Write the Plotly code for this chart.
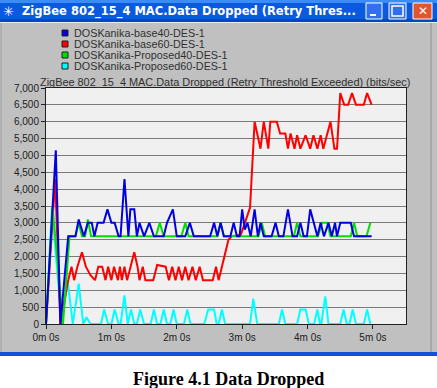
import plotly.graph_objects as go

# ---------------- data (time in minutes, values in bits/sec) ----------------
series_names = ["DOSKanika-base40-DES-1", "DOSKanika-base60-DES-1",
                "DOSKanika-Proposed40-DES-1", "DOSKanika-Proposed60-DES-1"]

base40_t = [0, 0.15, 0.22, 0.34, 0.45, 0.50, 0.58, 0.64, 0.70, 0.74, 0.79, 0.88, 0.94, 1.00, 1.05,
            1.11, 1.14, 1.20, 1.26, 1.29, 1.35, 1.39, 1.43, 1.50, 1.58, 1.65, 1.80, 1.85, 1.94, 2.00,
            2.13, 2.20, 2.26, 2.51, 2.57, 2.62, 2.67, 2.72, 2.82, 2.87, 2.92, 2.96, 3.00, 3.04, 3.08,
            3.13, 3.19, 3.24, 3.28, 3.33, 3.45, 3.51, 3.56, 3.63, 3.70, 3.77, 3.84, 3.89, 3.94, 3.99,
            4.04, 4.10, 4.15, 4.20, 4.25, 4.32, 4.37, 4.42, 4.45, 4.50, 4.66, 4.71, 4.98]
base40_v = [0, 5150, 0, 2600, 2600, 3100, 2600, 3000, 3000, 2600, 3000, 3000, 3400, 3000, 3000,
            2600, 2600, 4300, 2600, 3400, 3400, 2600, 3000, 2600, 3000, 2600, 2600, 3000, 3400, 2600,
            2600, 3000, 2600, 2600, 3000, 2600, 3000, 2600, 2600, 3000, 2600, 2600, 3400, 2800, 3000,
            2600, 3400, 2600, 3000, 2600, 2600, 3000, 2600, 2600, 3400, 2600, 2600, 3000, 2600, 2600,
            3400, 3000, 2600, 3000, 2600, 3000, 2600, 3000, 2600, 3000, 3000, 2600, 2600]

base60_t = [0, 0.14, 0.22, 0.34, 0.39, 0.43, 0.48, 0.55, 0.61, 0.68, 0.75, 0.80, 0.86, 0.91, 0.95,
            1.00, 1.04, 1.10, 1.13, 1.16, 1.20, 1.24, 1.35, 1.40, 1.43, 1.48, 1.52, 1.64, 1.70, 1.83,
            1.88, 1.93, 1.98, 2.03, 2.08, 2.13, 2.18, 2.24, 2.29, 2.35, 2.40, 2.55, 2.60, 2.64, 2.79,
            2.84, 2.98, 3.12, 3.19, 3.28, 3.33, 3.40, 3.43, 3.53, 3.58, 3.66, 3.70, 3.74, 3.80, 3.84,
            3.89, 3.97, 4.04, 4.09, 4.15, 4.20, 4.24, 4.35, 4.41, 4.45, 4.50, 4.56, 4.62, 4.68, 4.74,
            4.86, 4.91, 4.98]
base60_v = [0, 4300, 0, 1300, 1700, 1300, 1700, 2130, 1700, 1450, 1300, 1700, 1700, 1300, 1700,
            1300, 1700, 1300, 1700, 1300, 1700, 1300, 2130, 1700, 1300, 1700, 1300, 1300, 1750, 1700,
            1300, 1700, 1300, 1700, 1300, 1700, 1300, 1700, 1300, 1700, 1300, 1300, 1700, 1300, 2500,
            2600, 2650, 3450, 6000, 5200, 6000, 5200, 6000, 6000, 5650, 5650, 5200, 5650, 5200, 5600,
            5200, 5600, 5200, 5600, 5200, 5600, 5200, 6000, 5200, 5200, 6850, 6500, 6500, 6850, 6500,
            6500, 6850, 6500]

prop40_t = [0, 0.10, 0.26, 0.36, 0.45, 0.50, 0.55, 0.60, 0.64, 0.69, 1.68, 1.74, 1.80, 2.07, 2.13,
            2.18, 2.62, 2.67, 2.72, 3.25, 3.30, 3.35, 3.79, 3.84, 3.89, 4.16, 4.22, 4.30, 4.35, 4.66,
            4.71, 4.76, 4.90, 4.96]
prop40_v = [0, 3500, 0, 2600, 2600, 3000, 2600, 2600, 3100, 2600, 2600, 3000, 2600, 2600, 3000,
            2600, 2600, 3000, 2600, 2600, 3000, 2600, 2600, 3000, 2600, 2600, 3000, 3000, 2600, 2600,
            3000, 2600, 2600, 3000]

prop60_t = [0, 0.09, 0.24, 0.33, 0.41, 0.50, 0.57, 0.62, 0.68, 0.84, 0.89, 0.95, 1.00, 1.05, 1.11,
            1.14, 1.20, 1.25, 1.30, 1.35, 1.39, 1.44, 1.50, 1.60, 1.65, 1.70, 1.75, 1.80, 1.85, 1.90,
            1.95, 2.00, 2.11, 2.16, 2.21, 2.42, 2.48, 2.57, 2.61, 2.64, 2.69, 2.74, 3.12, 3.17, 3.23,
            3.56, 3.61, 3.66, 3.84, 3.89, 3.97, 4.02, 4.10, 4.15, 4.19, 4.21, 4.27, 4.32, 4.50, 4.55,
            4.60, 4.64, 4.69, 4.74, 4.86, 4.91, 4.96]
prop60_v = [0, 3450, 0, 1300, 0, 1200, 0, 200, 0, 0, 430, 0, 0, 430, 0,
            0, 850, 0, 430, 0, 0, 430, 0, 0, 430, 0, 0, 430, 0, 0,
            430, 0, 0, 430, 0, 0, 430, 430, 0, 0, 430, 0, 0, 750, 0,
            0, 430, 0, 0, 430, 430, 0, 0, 430, 0, 0, 820, 0, 0, 430,
            0, 0, 430, 0, 0, 430, 0]

x_tickvals = [0, 1, 2, 3, 4, 5]
x_ticktext = ["0m 0s", "1m 0s", "2m 0s", "3m 0s", "4m 0s", "5m 0s"]

colors = ["#0000e0", "#ff0000", "#00e000", "#00ffff"]

# ---------------- geometry ----------------
FW, FH = 437, 388
L, T, PW, PH = 46, 88, 360, 236


def px(x):
    return (x - L) / PW


def py(y):
    return (T + PH - y) / PH


fig = go.Figure()
series = [(base40_t, base40_v), (base60_t, base60_v), (prop40_t, prop40_v), (prop60_t, prop60_v)]
draw_order = [3, 1, 2, 0]
for i in draw_order:
    t, v = series[i]
    fig.add_trace(go.Scatter(x=t, y=v, mode="lines", name=series_names[i],
                             line=dict(color=colors[i], width=2), showlegend=False,
                             hoverinfo="skip"))

shapes = []
def rect(x0, y0, x1, y1, fill, line=None, layer="below", lw=0):
    shapes.append(dict(type="rect", xref="paper", yref="paper",
                       x0=px(x0), x1=px(x1), y0=py(y1), y1=py(y0),
                       fillcolor=fill, layer=layer,
                       line=dict(color=line or fill, width=lw)))

# window body and surroundings
rect(0, 356, FW, FH, "#ffffff")
rect(0, 352, FW, 356, "#1450d8")
rect(430, 22, 432, 352, "#a8a8a8")
rect(0, 22, 2, 352, "#b0b0b0")
# title bar
rect(0, 0, FW, 22, "#0a5ae0")
rect(0, 0, FW, 3, "#3c8cf8")
rect(0, 19, FW, 22, "#0646c0")
rect(0, 22, FW, 23, "#e8eef8")
# window buttons
rect(366, 3, 382, 19, "#2f6ff0", line="#ffffff", layer="above", lw=1)
rect(389, 3, 406, 19, "#2f6ff0", line="#ffffff", layer="above", lw=1)
rect(413, 3, 432, 19, "#e2552e", line="#ffffff", layer="above", lw=1)
rect(370, 14, 376, 16, "#ffffff", layer="above")
rect(392, 6, 403, 16, "rgba(0,0,0,0)", line="#ffffff", layer="above", lw=1.5)

# legend squares
leg_y = [33, 44, 55, 66]
for i, yc in enumerate(leg_y):
    rect(62, yc - 3, 68, yc + 3, colors[i], line="#202020", layer="above", lw=1)

annotations = []
for i, yc in enumerate(leg_y):
    annotations.append(dict(xref="paper", yref="paper", x=px(72), y=py(yc), text=series_names[i],
                            showarrow=False, xanchor="left", yanchor="middle",
                            font=dict(family="Liberation Sans", size=10.8, color="#303030")))

annotations.append(dict(xref="paper", yref="paper", x=px(225), y=py(82),
                        text="ZigBee 802_15_4 MAC.Data Dropped (Retry Threshold Exceeded) (bits/sec)",
                        showarrow=False, xanchor="center", yanchor="middle",
                        font=dict(family="Liberation Sans", size=10.9, color="#303030")))
annotations.append(dict(xref="paper", yref="paper", x=px(20), y=py(11.5),
                        text="<b>ZigBee 802_15_4 MAC.Data Dropped (Retry Thres...</b>",
                        showarrow=False, xanchor="left", yanchor="middle",
                        font=dict(family="DejaVu Sans", size=11.5, color="#ffffff")))
annotations.append(dict(xref="paper", yref="paper", x=px(8), y=py(11),
                        text="✳", showarrow=False, xanchor="center", yanchor="middle",
                        font=dict(family="DejaVu Sans", size=13, color="#ffffff")))
annotations.append(dict(xref="paper", yref="paper", x=px(422.5), y=py(11),
                        text="<b>✕</b>", showarrow=False, xanchor="center", yanchor="middle",
                        font=dict(family="DejaVu Sans", size=12, color="#ffffff")))
annotations.append(dict(xref="paper", yref="paper", x=px(228), y=py(379),
                        text="<b>Figure 4.1 Data Dropped</b>", showarrow=False,
                        xanchor="center", yanchor="middle",
                        font=dict(family="Liberation Serif", size=18, color="#000000")))

fig.update_layout(
    width=FW, height=FH,
    margin=dict(l=L, r=FW - L - PW, t=T, b=FH - T - PH, pad=0),
    paper_bgcolor="#c0c0c0",
    plot_bgcolor="#f0f0f0",
    showlegend=False,
    shapes=shapes,
    annotations=annotations,
    font=dict(family="Liberation Sans", size=10, color="#202020"),
    xaxis=dict(range=[0, 5.505], tickvals=x_tickvals, ticktext=x_ticktext,
               showgrid=False, zeroline=False, showline=True, linecolor="#202020",
               linewidth=1, mirror=True, ticks="outside", ticklen=4, tickcolor="#202020",
               tickfont=dict(family="Liberation Sans", size=10, color="#202020")),
    yaxis=dict(range=[0, 7000], dtick=500, tickformat=",d",
               showgrid=True, gridcolor="#7a7a7a", gridwidth=1, zeroline=False,
               showline=True, linecolor="#202020", linewidth=1, mirror=True,
               ticks="outside", ticklen=4, tickcolor="#202020",
               tickfont=dict(family="Liberation Sans", size=10, color="#202020")),
)

fig.write_html("out.html")
